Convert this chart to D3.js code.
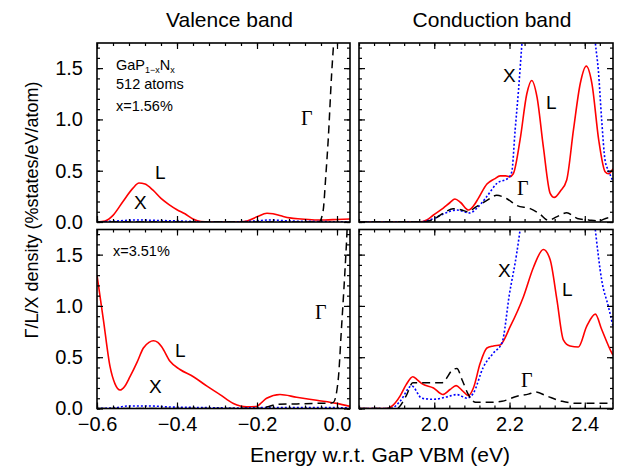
<!DOCTYPE html>
<html>
<head>
<meta charset="utf-8">
<script src="https://cdn.jsdelivr.net/npm/d3@7"></script>
<style>
  body { margin: 0; background: #fff; }
  text { font-family: "Liberation Sans", Arial, Helvetica, sans-serif; fill: #000; }
  .serif { font-family: "Liberation Serif", "Times New Roman", serif; }
</style>
</head>
<body>
<svg id="chart" width="618" height="468"></svg>
<script>
// Projected density of states, [energy (eV), density (%states/eV/atom)]
// Valence band, x = 1.56 %
const vb156_L = [[-0.6,0.0],[-0.58,0.01],[-0.56,0.065],[-0.535,0.2],[-0.51,0.33],[-0.495,0.38],[-0.48,0.37],[-0.46,0.31],[-0.44,0.23],[-0.42,0.17],[-0.40,0.12],[-0.38,0.08],[-0.36,0.03],[-0.34,0.005],[-0.30,0.0],[-0.25,0.0],[-0.225,0.01],[-0.20,0.05],[-0.175,0.085],[-0.16,0.08],[-0.14,0.06],[-0.118,0.04],[-0.09,0.03],[-0.05,0.02],[-0.03,0.02],[0.0,0.025],[0.033,0.03]];
const vb156_X = [[-0.6,0.0],[-0.55,0.01],[-0.5,0.02],[-0.45,0.015],[-0.4,0.01],[-0.3,0.0],[-0.2,0.01],[-0.17,0.02],[-0.12,0.01],[-0.05,0.005],[0.033,0.0]];
const vb156_G = [[-0.6,0.0],[-0.1,0.0],[-0.045,0.0],[-0.035,0.1],[-0.028,0.45],[-0.022,0.8],[-0.0133,1.45],[-0.009,1.71],[-0.004,2.0],[0.005,2.5],[0.033,3.5]];

// Conduction band, x = 1.56 %
const cb156_L = [[1.8,0],[1.96,0],[1.98,0.02],[1.998,0.068],[2.024,0.135],[2.042,0.19],[2.055,0.224],[2.07,0.19],[2.091,0.117],[2.105,0.16],[2.117,0.23],[2.14,0.37],[2.16,0.42],[2.175,0.45],[2.19,0.45],[2.2,0.44],[2.21,0.47],[2.228,0.8],[2.246,1.25],[2.259,1.38],[2.273,1.22],[2.29,0.73],[2.308,0.28],[2.319,0.24],[2.335,0.3],[2.352,0.41],[2.37,0.9],[2.388,1.35],[2.404,1.52],[2.419,1.35],[2.437,0.8],[2.454,0.49],[2.463,0.47],[2.475,0.52]];
const cb156_X = [[1.8,0],[1.96,0],[1.998,0.033],[2.03,0.088],[2.06,0.117],[2.095,0.088],[2.112,0.13],[2.14,0.25],[2.166,0.375],[2.197,0.43],[2.206,0.49],[2.215,0.9],[2.224,1.29],[2.233,1.74],[2.245,2.3],[2.3,3.5],[2.35,4.0],[2.4,3.0],[2.42,2.1],[2.428,1.75],[2.436,1.48],[2.445,0.99],[2.454,0.6],[2.463,0.5],[2.475,0.4]];
const cb156_G = [[1.8,0],[1.97,0],[2.0,0.03],[2.03,0.1],[2.05,0.13],[2.07,0.12],[2.09,0.1],[2.11,0.146],[2.14,0.21],[2.166,0.26],[2.193,0.227],[2.22,0.16],[2.255,0.13],[2.28,0.08],[2.303,0.016],[2.325,0.05],[2.352,0.09],[2.38,0.035],[2.41,0.02],[2.436,0.01],[2.46,0.04],[2.475,0.045]];

// Valence band, x = 3.51 %
const vb351_L = [[-0.6,1.30],[-0.584,0.865],[-0.5675,0.41],[-0.555,0.24],[-0.5425,0.18],[-0.53,0.22],[-0.5175,0.31],[-0.50,0.45],[-0.484,0.59],[-0.47,0.645],[-0.459,0.66],[-0.448,0.645],[-0.438,0.60],[-0.4175,0.46],[-0.3925,0.38],[-0.359,0.31],[-0.326,0.22],[-0.2925,0.136],[-0.259,0.049],[-0.226,0.016],[-0.201,0.02],[-0.188,0.06],[-0.176,0.10],[-0.1425,0.136],[-0.101,0.11],[-0.051,0.08],[-0.001,0.05],[0.033,0.02]];
const vb351_X = [[-0.6,0],[-0.55,0.01],[-0.52,0.025],[-0.47,0.025],[-0.42,0.015],[-0.35,0.01],[-0.25,0.005],[-0.15,0.01],[-0.05,0.01],[0.033,0.005]];
const vb351_G = [[-0.6,0],[-0.2,0],[-0.17,0.02],[-0.15,0.04],[-0.1,0.045],[-0.05,0.05],[-0.02,0.05],[-0.009,0.06],[0.003,0.28],[0.011,0.77],[0.02,1.35],[0.024,1.64],[0.028,2.0],[0.033,2.4]];

// Conduction band, x = 3.51 %
const cb351_L = [[1.8,0],[1.875,0],[1.89,0.03],[1.909,0.12],[1.925,0.23],[1.943,0.31],[1.955,0.28],[1.967,0.243],[1.998,0.2],[2.023,0.136],[2.042,0.185],[2.058,0.223],[2.073,0.18],[2.091,0.126],[2.104,0.2],[2.122,0.44],[2.14,0.59],[2.157,0.61],[2.175,0.62],[2.202,0.80],[2.237,1.09],[2.264,1.38],[2.29,1.55],[2.308,1.45],[2.326,1.06],[2.343,0.67],[2.361,0.61],[2.383,0.6],[2.405,0.8],[2.428,0.92],[2.445,0.77],[2.472,0.54],[2.475,0.52]];
const cb351_X = [[1.8,0],[1.885,0],[1.909,0.07],[1.94,0.22],[1.967,0.1],[1.998,0.09],[2.033,0.113],[2.06,0.136],[2.087,0.1],[2.104,0.15],[2.13,0.4],[2.157,0.54],[2.18,0.64],[2.2,1.12],[2.219,1.51],[2.228,1.74],[2.24,2.1],[2.3,3.0],[2.35,3.5],[2.4,2.8],[2.42,2.0],[2.428,1.74],[2.445,1.25],[2.463,0.99],[2.475,0.8]];
const cb351_G = [[1.8,0],[1.9,0],[1.925,0.12],[1.943,0.25],[1.98,0.25],[2.02,0.25],[2.05,0.38],[2.06,0.39],[2.075,0.27],[2.09,0.14],[2.11,0.06],[2.145,0.06],[2.18,0.07],[2.22,0.12],[2.25,0.14],[2.27,0.16],[2.3,0.12],[2.34,0.07],[2.38,0.05],[2.41,0.05],[2.475,0.05]];

// Axis ranges and tick labels
const vbDomain = [-0.6, 0.0325];
const cbDomain = [1.8, 2.475];
const yDomain = [0, 1.745];
const vbTicks = [-0.6, -0.4, -0.2, 0.0];
const cbTicks = [2.0, 2.2, 2.4];
const yTicks = [0.0, 0.5, 1.0, 1.5];
const columnTitles = ["Valence band", "Conduction band"];
const xTitle = "Energy w.r.t. GaP VBM (eV)";
const yTitle = "Γ/L/X density (%states/eV/atom)";

const svg = d3.select("#chart");

const cols = [{x0: 97, x1: 350}, {x0: 359, x1: 613}];
const rows = [{y0: 43, y1: 222}, {y0: 229.5, y1: 408.5}];

const panels = [
  {col: 0, row: 0, dom: vbDomain, ticks: vbTicks, L: vb156_L, X: vb156_X, G: vb156_G,
   labels: [{t: "L", x: 155, y: 179}, {t: "X", x: 134, y: 209}, {t: "Γ", x: 301, y: 125, serif: true}]},
  {col: 1, row: 0, dom: cbDomain, ticks: cbTicks, L: cb156_L, X: cb156_X, G: cb156_G,
   labels: [{t: "X", x: 503, y: 82}, {t: "L", x: 546, y: 109}, {t: "Γ", x: 517, y: 195, serif: true}]},
  {col: 0, row: 1, dom: vbDomain, ticks: vbTicks, L: vb351_L, X: vb351_X, G: vb351_G,
   labels: [{t: "L", x: 175, y: 357}, {t: "X", x: 149, y: 393}, {t: "Γ", x: 315, y: 319, serif: true}]},
  {col: 1, row: 1, dom: cbDomain, ticks: cbTicks, L: cb351_L, X: cb351_X, G: cb351_G,
   labels: [{t: "X", x: 498, y: 277}, {t: "L", x: 562, y: 296}, {t: "Γ", x: 521, y: 387, serif: true}]}
];

const fmt = d3.format(".1f");

function stepTicks(dom, start, step) {
  const out = [];
  for (let i = 0; ; i++) {
    const v = +(start + i * step).toFixed(6);
    if (v > dom[1] + 1e-9) break;
    if (v >= dom[0] - 1e-9) out.push(v);
  }
  return out;
}

panels.forEach((p, i) => {
  const c = cols[p.col], r = rows[p.row];
  const x = d3.scaleLinear().domain(p.dom).range([c.x0, c.x1]);
  const y = d3.scaleLinear().domain(yDomain).range([r.y1, r.y0]);
  const g = svg.append("g");

  g.append("clipPath").attr("id", "clip" + i)
    .append("rect").attr("x", c.x0).attr("y", r.y0)
    .attr("width", c.x1 - c.x0).attr("height", r.y1 - r.y0);

  const line = d3.line().x(d => x(d[0])).y(d => y(d[1])).curve(d3.curveMonotoneX);
  const plot = g.append("g").attr("clip-path", `url(#clip${i})`);

  plot.append("path").datum(p.L).attr("d", line)
    .attr("fill", "none").attr("stroke", "#ff0000").attr("stroke-width", 1.6);
  plot.append("path").datum(p.X).attr("d", line)
    .attr("fill", "none").attr("stroke", "#0000ff").attr("stroke-width", 1.6)
    .attr("stroke-dasharray", "2,2");
  plot.append("path").datum(p.G).attr("d", line)
    .attr("fill", "none").attr("stroke", "#000").attr("stroke-width", 1.5)
    .attr("stroke-dasharray", "8,5");

  // inward ticks on all four sides
  const minorX = stepTicks(p.dom, p.dom[0] === vbDomain[0] ? -0.6 : 1.8, 0.04);
  const minorY = stepTicks(yDomain, 0, 0.1);
  const showX = p.row === 1, showY = p.col === 0;

  function addAxis(gen, tr, values, size, labels) {
    const a = gen.tickValues(values).tickSizeInner(-size).tickSizeOuter(0).tickPadding(8);
    a.tickFormat(labels ? fmt : "");
    const ag = g.append("g").attr("transform", tr).call(a);
    ag.select(".domain").remove();
    ag.selectAll("line").attr("stroke", "#000").attr("stroke-width", 1.2);
    ag.selectAll("text").style("font-size", "20px").style("font-family", '"Liberation Sans", Arial, sans-serif');
    return ag;
  }
  addAxis(d3.axisBottom(x), `translate(0,${r.y1})`, p.ticks, 6, showX);
  addAxis(d3.axisBottom(x), `translate(0,${r.y1})`, minorX, 3, false);
  addAxis(d3.axisTop(x), `translate(0,${r.y0})`, p.ticks, 6, false);
  addAxis(d3.axisTop(x), `translate(0,${r.y0})`, minorX, 3, false);
  const la = addAxis(d3.axisLeft(y), `translate(${c.x0},0)`, yTicks, 6, showY);
  if (showY) la.selectAll("text").attr("x", -14);
  addAxis(d3.axisLeft(y), `translate(${c.x0},0)`, minorY, 3, false);
  addAxis(d3.axisRight(y), `translate(${c.x1},0)`, yTicks, 6, false);
  addAxis(d3.axisRight(y), `translate(${c.x1},0)`, minorY, 3, false);

  g.append("rect").attr("x", c.x0).attr("y", r.y0)
    .attr("width", c.x1 - c.x0).attr("height", r.y1 - r.y0)
    .attr("fill", "none").attr("stroke", "#000").attr("stroke-width", 1.6);

  p.labels.forEach(l => {
    g.append("text").attr("x", l.x).attr("y", l.y).text(l.t)
      .attr("class", l.serif ? "serif" : null)
      .style("font-size", l.serif ? "20px" : "19px");
  });
});

// composition and size annotations
const ann = svg.append("g").style("font-size", "14.5px");
const comp = ann.append("text").attr("x", 116).attr("y", 70);
comp.append("tspan").text("GaP");
comp.append("tspan").text("1−x").attr("dy", 3).style("font-size", "9px");
comp.append("tspan").text("N").attr("dy", -3);
comp.append("tspan").text("x").attr("dy", 3).style("font-size", "9px");
ann.append("text").attr("x", 116).attr("y", 89).text("512 atoms");
ann.append("text").attr("x", 116).attr("y", 111).text("x=1.56%");
ann.append("text").attr("x", 113).attr("y", 256).text("x=3.51%");

// column titles and axis titles
columnTitles.forEach((t, i) => {
  svg.append("text").attr("x", (cols[i].x0 + cols[i].x1) / 2 + 6).attr("y", 27)
    .attr("text-anchor", "middle").style("font-size", "21px").text(t);
});
svg.append("text").attr("x", 380).attr("y", 462).attr("text-anchor", "middle")
  .style("font-size", "21px").text(xTitle);
svg.append("text").attr("transform", "translate(38,210) rotate(-90)")
  .attr("text-anchor", "middle").style("font-size", "18px").text(yTitle);
</script>
</body>
</html>
